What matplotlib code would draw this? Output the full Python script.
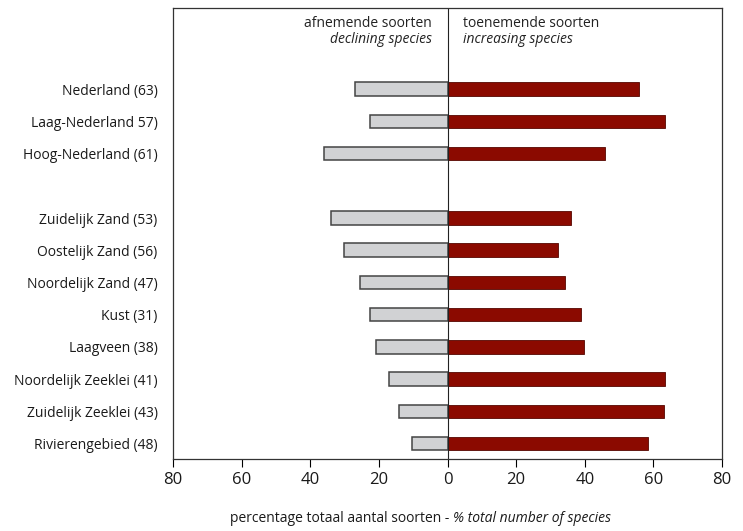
"""Diverging bar chart: declining vs increasing species per region."""

import matplotlib

matplotlib.use("Agg")
import matplotlib.pyplot as plt

plt.rcParams["font.family"] = ["Open Sans", "DejaVu Sans"]

regions = [
    "Nederland (63)",
    "Laag-Nederland 57)",
    "Hoog-Nederland (61)",
    "",
    "Zuidelijk Zand (53)",
    "Oostelijk Zand (56)",
    "Noordelijk Zand (47)",
    "Kust (31)",
    "Laagveen (38)",
    "Noordelijk Zeeklei (41)",
    "Zuidelijk Zeeklei (43)",
    "Rivierengebied (48)",
]
declining = [26.9, 22.7, 36.0, None, 33.9, 30.3, 25.4, 22.5, 20.9, 17.0, 14.0, 10.3]
increasing = [55.7, 63.4, 45.9, None, 36.0, 32.2, 34.2, 39.0, 39.7, 63.5, 63.0, 58.4]
xticks = [-80, -60, -40, -20, 0, 20, 40, 60, 80]

fig = plt.figure(figsize=(7.43, 5.31), dpi=100)
ax = fig.add_axes([173 / 743, 72 / 531, 549 / 743, 451 / 531])

for i, (name, dec, inc) in enumerate(zip(regions, declining, increasing)):
    if dec is None:
        continue
    ax.barh(i, -dec, height=0.42, color="#d1d2d4", edgecolor="#444444", linewidth=1.1)
    ax.barh(i, inc, height=0.42, color="#8b0a00", edgecolor="#550600", linewidth=0.6)

ax.axvline(0, color="#222222", linewidth=0.8)

ax.set_xlim(-80, 80)
ax.set_ylim(11.48, -2.52)
ax.set_yticks(range(len(regions)))
ax.set_yticklabels(regions, fontsize=10, color="#1a1a1a")
ax.tick_params(axis="y", length=0, pad=11)
ax.set_xticks(xticks)
ax.set_xticklabels([str(abs(t)) for t in xticks], fontsize=12, color="#1a1a1a")
ax.tick_params(axis="x", direction="out", length=5.5, width=0.8, pad=4)
for spine in ax.spines.values():
    spine.set_linewidth(0.9)
    spine.set_color("#333333")

ax.text(-4.6, -2.05, "afnemende soorten", ha="right", va="center", fontsize=10, color="#222222")
ax.text(-4.6, -1.53, "declining species", ha="right", va="center", fontsize=10,
        style="italic", color="#222222")
ax.text(4.5, -2.05, "toenemende soorten", ha="left", va="center", fontsize=10, color="#222222")
ax.text(4.5, -1.53, "increasing species", ha="left", va="center", fontsize=10,
        style="italic", color="#222222")

fig.text(453 / 743, 1 - 518 / 531, "percentage totaal aantal soorten - ", ha="right",
         va="center", fontsize=10, color="#1a1a1a")
fig.text(453 / 743, 1 - 518 / 531, "% total number of species", ha="left",
         va="center", fontsize=10, style="italic", color="#1a1a1a")

fig.savefig("out.png", dpi=100)
